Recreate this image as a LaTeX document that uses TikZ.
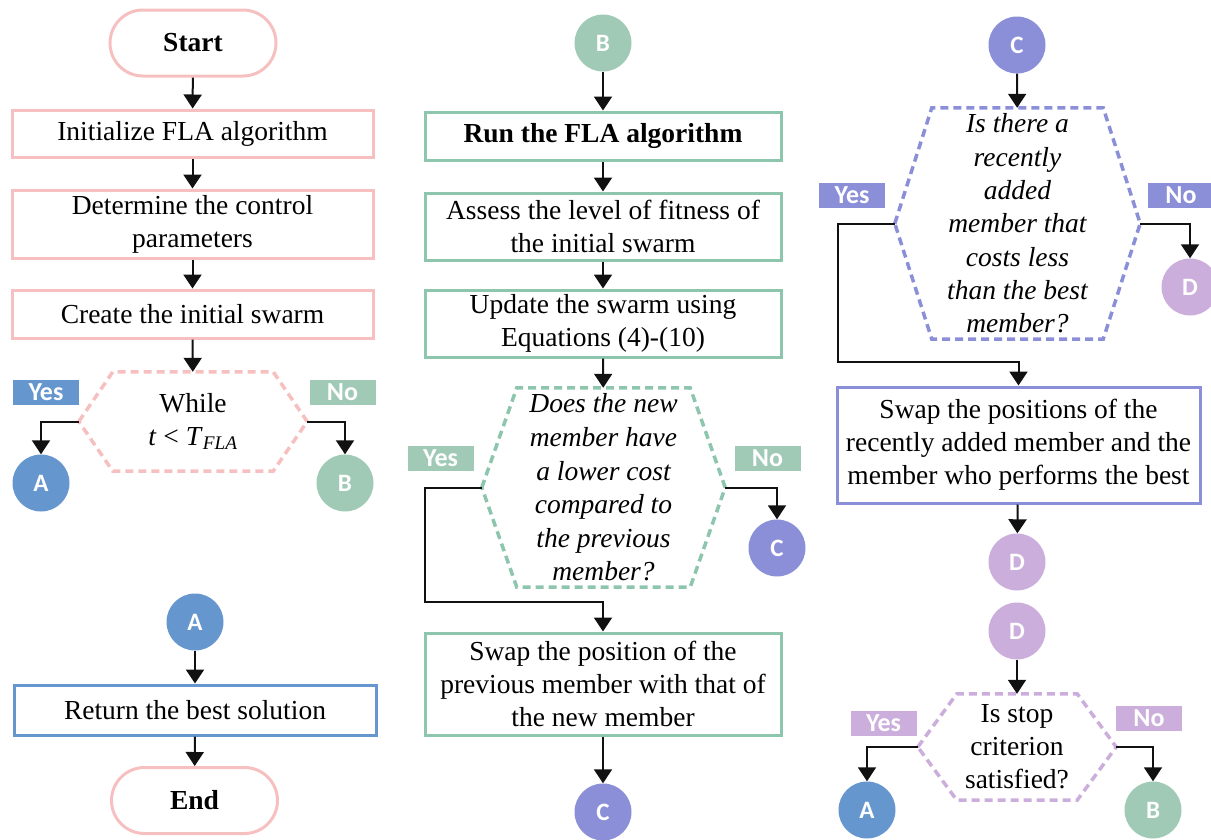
\documentclass[tikz,border=0pt]{standalone}
\usepackage{fontspec}
\setmainfont{Liberation Serif}
\newfontfamily\labelfont{Carlito}
\usetikzlibrary{arrows.meta}
\definecolor{pinkborder}{HTML}{F7C0C0}
\definecolor{greenborder}{HTML}{8EC5AD}
\definecolor{greenfill}{HTML}{A0CAB6}
\definecolor{bluefill}{HTML}{6696CE}
\definecolor{violetfill}{HTML}{8A8FD8}
\definecolor{lilacfill}{HTML}{CBAEDB}
\definecolor{darkline}{HTML}{111111}
\tikzset{
  terminal/.style={
    rectangle,
    rounded corners=33pt,
    draw=pinkborder,
    line width=3pt,
    minimum width=166pt,
    minimum height=66pt,
    font=\fontsize{27.5}{33}\selectfont\bfseries
  },
  box/.style={
    rectangle,
    align=center,
    line width=3pt,
    inner sep=2pt,
    minimum width=361pt,
    font=\fontsize{27.5}{33}\selectfont
  },
  decision/.style={
    rectangle,
    align=center,
    inner sep=0pt,
    font=\fontsize{27.5}{33}\selectfont
  },
  connector/.style={
    circle,
    minimum size=57pt,
    inner sep=0pt,
    text=white,
    font=\labelfont\fontsize{25}{25}\selectfont\bfseries
  },
  answer/.style={
    rectangle,
    minimum width=66pt,
    minimum height=25pt,
    inner sep=0pt,
    text=white,
    font=\labelfont\fontsize{26}{26}\selectfont\bfseries
  },
  flow/.style={
    -{Triangle[length=14pt, width=18pt]},
    line width=2pt,
    draw=darkline
  },
  hexline/.style={
    line width=3.5pt,
    dash pattern=on 8pt off 5pt
  }
}
% hexagon outline round a decision node: name, inset, colour
\newcommand{\hexoutline}[3]{%
  \draw[hexline, draw=#3] (#1.west) -- ([xshift=#2]#1.north west)
    -- ([xshift=-#2]#1.north east) -- (#1.east)
    -- ([xshift=-#2]#1.south east) -- ([xshift=#2]#1.south west) -- cycle;}

\begin{document}
\begin{tikzpicture}[x=1pt, y=-1pt]
\clip (0,0) rectangle (1211,839);

% Left column.
\node[terminal] (start) at (193,43) {Start};
\node[box, draw=pinkborder, minimum height=47pt] (init) at (192.5,133.5) {Initialize FLA algorithm};
\node[box, draw=pinkborder, minimum height=68pt] (determine) at (192.5,224) {Determine the control\\parameters};
\node[box, draw=pinkborder, minimum height=48pt] (create) at (192.5,314) {Create the initial swarm};
\node[decision, minimum width=228pt, minimum height=99pt] (while) at (193,421.5) {While\\\textit{t} < \textit{T}\textsubscript{\textit{FLA}}};
\hexoutline{while}{34pt}{pinkborder}
\node[answer, fill=bluefill] (yes1) at (46,392) {Yes};
\node[answer, fill=greenfill] (no1) at (342.5,392) {No};
\node[connector, fill=bluefill] (ca1) at (41,483) {A};
\node[connector, fill=greenfill] (cb2) at (345,483) {B};

\node[connector, fill=bluefill] (ca2) at (195,622) {A};
\node[box, draw=bluefill, minimum width=362pt, minimum height=50pt] (retbest) at (195,710) {Return the best solution};
\node[terminal] (end) at (194.5,800.5) {End};

% Middle column.
\node[connector, fill=greenfill] (cb1) at (603,43) {B};
\node[box, draw=greenborder, minimum width=356pt, minimum height=48pt, font=\fontsize{27.5}{33}\selectfont\bfseries] (run) at (603,136) {Run the FLA algorithm};
\node[box, draw=greenborder, minimum width=356pt, minimum height=67pt] (assess) at (603,226.5) {Assess the level of fitness of\\the initial swarm};
\node[box, draw=greenborder, minimum width=356pt, minimum height=67pt] (update) at (603,323.5) {Update the swarm using\\Equations (4)-(10)};
\node[decision, minimum width=243pt, minimum height=199pt, font=\fontsize{27.5}{33.6}\selectfont\itshape] (doesnew) at (603.5,487.5) {Does the new\\member have\\a lower cost\\compared to\\the previous\\member?};
\hexoutline{doesnew}{35pt}{greenborder}
\node[answer, fill=greenfill] (yes2) at (440.5,458) {Yes};
\node[answer, fill=greenfill] (no2) at (767.5,458) {No};
\node[connector, fill=violetfill] (cc1) at (777,548) {C};
\coordinate (mbend) at (425,602);
\node[box, draw=greenborder, minimum width=356pt, minimum height=102pt] (swapprev) at (603,684) {Swap the position of the\\previous member with that of\\the new member};
\node[connector, fill=violetfill] (cc2) at (603,812) {C};

% Right column.
\node[connector, fill=violetfill] (cc3) at (1017,45) {C};
\node[decision, minimum width=245pt, minimum height=231pt, font=\fontsize{27.5}{33.3}\selectfont\itshape] (recently) at (1017.5,223.5) {Is there a\\recently\\added\\member that\\costs less\\than the best\\member?};
\hexoutline{recently}{37pt}{violetfill}
\node[answer, fill=violetfill] (yes3) at (852,195) {Yes};
\node[answer, fill=violetfill] (no3) at (1181,195) {No};
\node[connector, fill=lilacfill] (cd1) at (1190,287) {D};
\coordinate (rbend) at (838,362);
\node[box, draw=violetfill, minimum width=363pt, minimum height=116pt] (swappos) at (1018.5,445) {Swap the positions of the\\recently added member and the\\member who performs the best};
\node[connector, fill=lilacfill] (cd2) at (1017,562) {D};

\node[connector, fill=lilacfill] (cd3) at (1017,631) {D};
\node[decision, minimum width=198pt, minimum height=106pt] (stop) at (1017,747) {Is stop\\criterion\\satisfied?};
\hexoutline{stop}{39pt}{lilacfill}
\node[answer, fill=lilacfill] (yes4) at (883.5,723.5) {Yes};
\node[answer, fill=lilacfill] (no4) at (1149,718.5) {No};
\node[connector, fill=bluefill] (ca3) at (867,810) {A};
\node[connector, fill=greenfill] (cb3) at (1153,810) {B};

% Flows.
\draw[flow] (start) -- (init);
\draw[flow] (init) -- (determine);
\draw[flow] (determine) -- (create);
\draw[flow] (create) -- (while);
\draw[flow] (while.west) -| (ca1.north);
\draw[flow] (while.east) -| (cb2.north);
\draw[flow] (ca2) -- (retbest);
\draw[flow] (retbest) -- (end);

\draw[flow] (cb1) -- (run);
\draw[flow] (run) -- (assess);
\draw[flow] (assess) -- (update);
\draw[flow] (update) -- (doesnew);
\draw[flow] (doesnew.west) -| (mbend) -| (swapprev.north);
\draw[flow] (doesnew.east) -| (cc1.north);
\draw[flow] (swapprev) -- (cc2);

\draw[flow] (cc3) -- (recently);
\draw[flow] (recently.west) -| (rbend) -| (swappos.north);
\draw[flow] (recently.east) -| (cd1.north);
\draw[flow] (swappos) -- (cd2);
\draw[flow] (cd3) -- (stop);
\draw[flow] (stop.west) -| (ca3.north);
\draw[flow] (stop.east) -| (cb3.north);

\end{tikzpicture}
\end{document}
